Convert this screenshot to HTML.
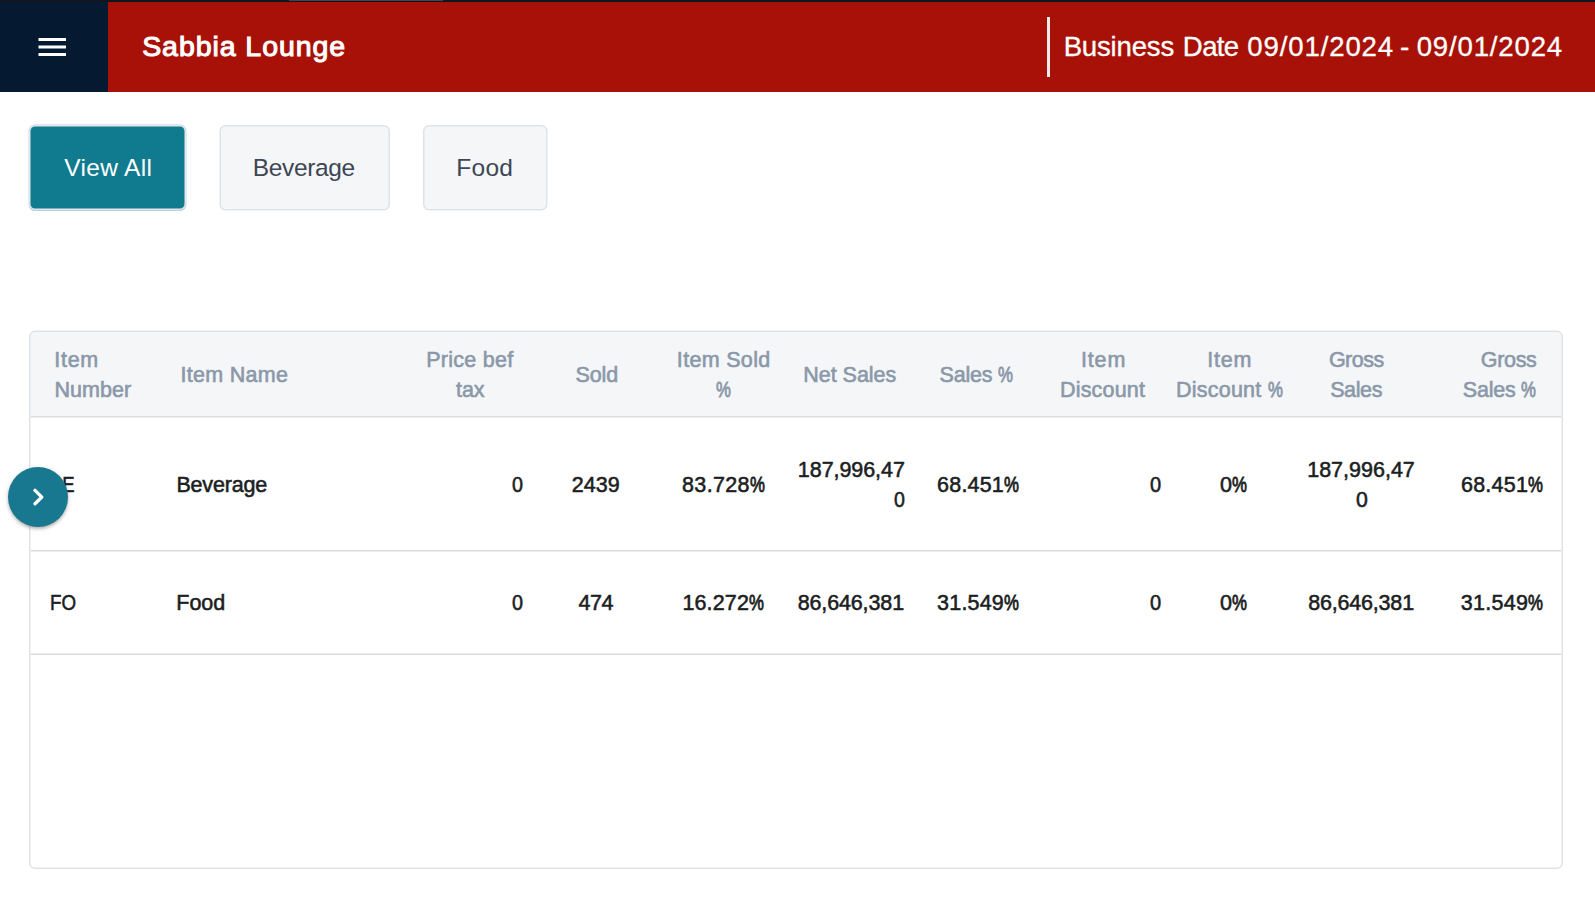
<!DOCTYPE html>
<html lang="en">
<head>
<meta charset="utf-8">
<title>Sabbia Lounge</title>
<style>
  html, body { margin: 0; padding: 0; }
  body {
    width: 1595px; height: 901px; overflow: hidden; position: relative;
    background: #ffffff;
    font-family: "Liberation Sans", sans-serif;
  }
  .abs { position: absolute; }
  h1, nav, header, section, div { margin: 0; font-weight: inherit; font-size: inherit; }

  /* top app bar */
  #chrome-strip { left: 0; top: 0; width: 1595px; height: 2px; background: #10161f; }
  #chrome-strip i { position: absolute; left: 289px; top: 0; width: 154px; height: 1px; background: #454545; }
  #appbar-bg { left: 0; top: 2px; width: 1595px; height: 90px; background: #a81107; }
  #navbtn { left: 0; top: 2px; width: 108px; height: 90px; background: #051a30; }
  #vsep { left: 1047px; top: 17px; width: 3px; height: 60px; background: #f4e9e6; }

  /* every text run is an absolutely positioned line */
  .t { position: absolute; white-space: nowrap; transform-origin: 0 0; }
  .th { font-size: 21.5px; line-height: 30px; color: #8b98a9; -webkit-text-stroke: 0.6px #8b98a9; }
  .td { font-size: 21.5px; line-height: 30px; color: #1b1e22; -webkit-text-stroke: 0.55px #1b1e22; }
  .bt { font-size: 24.5px; line-height: 30px; color: #3d4654; }
  .bt.on { color: #fff; }
  .ti { font-size: 28.5px; line-height: 37px; color: #fff; -webkit-text-stroke: 1.05px #fff; }
  .bd { font-size: 27.6px; line-height: 38px; color: #fff; -webkit-text-stroke: 0.3px #fff; }

  .pc { display: inline-block; font-style: normal; -webkit-text-stroke-width: 0.85px; transform: scaleX(0.78); transform-origin: 0 50%; margin-right: -0.195em; }
  #chrome { left: 0; top: 0; }
  #fab { left: 8px; top: 467px; width: 60px; height: 60px; border-radius: 50%; background: #177890;
    box-shadow: 0 2px 3px rgba(60,40,40,0.28), 0 1px 6px rgba(0,0,0,0.10); }
</style>
</head>
<body>

<div id="chrome-strip" class="abs"><i></i></div>
<div id="appbar-bg" class="abs"></div>

<svg id="chrome" class="abs" width="1595" height="901" viewBox="0 0 1595 901" aria-hidden="true">
  <!-- filter buttons -->
  <rect x="28.6" y="124.6" width="157.8" height="86.5" rx="6.4" fill="#b4d2d9"/>
  <rect x="29.75" y="125.75" width="155.5" height="83.6" rx="5.25" fill="#107b8f" stroke="#e4e6ec" stroke-width="1.5"/>
  <rect x="220.25" y="125.75" width="169" height="84" rx="5.25" fill="#f5f6f8" stroke="#dfe3e9" stroke-width="1.5"/>
  <rect x="423.75" y="125.75" width="123" height="84" rx="5.25" fill="#f5f6f8" stroke="#dfe3e9" stroke-width="1.5"/>
  <!-- table frame -->
  <path d="M30.5 416 V337 a5 5 0 0 1 5 -5 H1556.5 a5 5 0 0 1 5 5 V416 Z" fill="#f4f6f8"/>
  <rect x="30.5" y="416" width="1531" height="1.5" fill="#dadcdf"/>
  <rect x="30.5" y="550" width="1531" height="1.5" fill="#dadcdf"/>
  <rect x="30.5" y="653.5" width="1531" height="1.5" fill="#dadcdf"/>
  <rect x="29.75" y="331.25" width="1532.5" height="537" rx="5.25" fill="none" stroke="#dfe3e8" stroke-width="1.5"/>
</svg>

<header>
  <div id="navbtn" class="abs">
    <svg width="108" height="90" viewBox="0 0 108 90" aria-label="menu">
      <rect x="38.5" y="36" width="27.5" height="3" fill="#fff"/>
      <rect x="38.5" y="43.5" width="27.5" height="3" fill="#fff"/>
      <rect x="38.5" y="51" width="27.5" height="3" fill="#fff"/>
    </svg>
  </div>
  <h1><span id="ti" class="t ti" style="left:142.17px;top:28px;letter-spacing:0.935px;">Sabbia Lounge</span></h1>
  <div id="vsep" class="abs"></div>
  <div><span id="bd1" class="t bd" style="left:1063.66px;top:28px;letter-spacing:-0.204px;">Business</span> <span id="bd2" class="t bd" style="left:1182.85px;top:28px;letter-spacing:-0.637px;">Date</span> <span id="bd3" class="t bd" style="left:1247.33px;top:28px;letter-spacing:0.857px;">09/01/2024</span> <span id="bd4" class="t bd" style="left:1400.07px;top:28px;letter-spacing:0.000px;transform:scaleX(1.0144);">-</span> <span id="bd5" class="t bd" style="left:1416.63px;top:28px;letter-spacing:0.832px;">09/01/2024</span></div>
</header>

<nav>
  <div><span id="bt1" class="t bt on" style="left:64.35px;top:153px;letter-spacing:0.327px;">View All</span></div>
  <div><span id="bt2" class="t bt" style="left:252.70px;top:153px;letter-spacing:-0.340px;">Beverage</span></div>
  <div><span id="bt3" class="t bt" style="left:456.37px;top:153px;letter-spacing:0.249px;">Food</span></div>
</nav>

<section>
  <div>
    <div><span id="h1a" class="t th" style="left:54.25px;top:345px;letter-spacing:0.721px;">Item</span> <span id="h1b" class="t th" style="left:54.43px;top:375px;letter-spacing:0.063px;">Number</span></div>
    <div><span id="h2" class="t th" style="left:180.62px;top:360px;letter-spacing:0.269px;">Item Name</span></div>
    <div><span id="h3a" class="t th" style="left:426.13px;top:345px;letter-spacing:0.285px;">Price bef</span> <span id="h3b" class="t th" style="left:456.10px;top:375px;letter-spacing:-0.102px;">tax</span></div>
    <div><span id="h4" class="t th" style="left:575.62px;top:360px;letter-spacing:-0.143px;">Sold</span></div>
    <div><span id="h5a" class="t th" style="left:676.87px;top:345px;letter-spacing:0.313px;">Item Sold</span> <span id="h5b" class="t th" style="left:715.81px;top:375px;letter-spacing:0.000px;transform:scaleX(0.9980);"><i class="pc">%</i></span></div>
    <div><span id="h6" class="t th" style="left:803.36px;top:360px;letter-spacing:-0.048px;">Net Sales</span></div>
    <div><span id="h7" class="t th" style="left:939.59px;top:360px;letter-spacing:-0.197px;">Sales <i class="pc">%</i></span></div>
    <div><span id="h8a" class="t th" style="left:1080.94px;top:345px;letter-spacing:0.867px;">Item</span> <span id="h8b" class="t th" style="left:1059.96px;top:375px;letter-spacing:0.192px;">Discount</span></div>
    <div><span id="h9a" class="t th" style="left:1207.25px;top:345px;letter-spacing:0.791px;">Item</span> <span id="h9b" class="t th" style="left:1175.96px;top:375px;letter-spacing:0.242px;">Discount <i class="pc">%</i></span></div>
    <div><span id="h10a" class="t th" style="left:1328.89px;top:345px;letter-spacing:-0.475px;">Gross</span> <span id="h10b" class="t th" style="left:1330.14px;top:375px;letter-spacing:-0.366px;">Sales</span></div>
    <div><span id="h11a" class="t th" style="left:1480.86px;top:345px;letter-spacing:-0.338px;">Gross</span> <span id="h11b" class="t th" style="left:1462.86px;top:375px;letter-spacing:-0.253px;">Sales <i class="pc">%</i></span></div>
  </div>
  <div>
    <div><span id="a1" class="t td" style="left:50.22px;top:470px;letter-spacing:0.000px;transform:scaleX(0.8600);">BE</span></div>
    <div><span id="a2" class="t td" style="left:176.45px;top:470px;letter-spacing:-0.184px;">Beverage</span></div>
    <div><span id="a3" class="t td" style="left:511.78px;top:470px;letter-spacing:0.000px;transform:scaleX(0.9188);">0</span></div>
    <div><span id="a4" class="t td" style="left:571.85px;top:470px;letter-spacing:-0.009px;">2439</span></div>
    <div><span id="a5" class="t td" style="left:682.03px;top:470px;letter-spacing:0.353px;">83.728<i class="pc">%</i></span></div>
    <div><span id="a6a" class="t td" style="left:797.85px;top:455px;letter-spacing:-0.064px;">187,996,47</span><span id="a6b" class="t td" style="left:894.00px;top:485px;letter-spacing:0.000px;transform:scaleX(0.9124);">0</span></div>
    <div><span id="a7" class="t td" style="left:937.09px;top:470px;letter-spacing:0.194px;">68.451<i class="pc">%</i></span></div>
    <div><span id="a8" class="t td" style="left:1149.73px;top:470px;letter-spacing:0.000px;transform:scaleX(0.9319);">0</span></div>
    <div><span id="a9" class="t td" style="left:1220.21px;top:470px;letter-spacing:0.000px;transform:scaleX(1.0025);">0<i class="pc">%</i></span></div>
    <div><span id="a10a" class="t td" style="left:1307.18px;top:455px;letter-spacing:0.003px;">187,996,47</span><span id="a10b" class="t td" style="left:1355.79px;top:485px;letter-spacing:0.000px;transform:scaleX(0.9881);">0</span></div>
    <div><span id="a11" class="t td" style="left:1460.98px;top:470px;letter-spacing:0.240px;">68.451<i class="pc">%</i></span></div>
  </div>
  <div>
    <div><span id="b1" class="t td" style="left:49.61px;top:588px;letter-spacing:0.000px;transform:scaleX(0.8726);">FO</span></div>
    <div><span id="b2" class="t td" style="left:176.37px;top:588px;letter-spacing:-0.040px;">Food</span></div>
    <div><span id="b3" class="t td" style="left:511.78px;top:588px;letter-spacing:0.000px;transform:scaleX(0.9188);">0</span></div>
    <div><span id="b4" class="t td" style="left:578.40px;top:588px;letter-spacing:-0.419px;">474</span></div>
    <div><span id="b5" class="t td" style="left:682.42px;top:588px;letter-spacing:0.145px;">16.272<i class="pc">%</i></span></div>
    <div><span id="b6" class="t td" style="left:797.63px;top:588px;letter-spacing:-0.127px;">86,646,381</span></div>
    <div><span id="b7" class="t td" style="left:937.11px;top:588px;letter-spacing:0.191px;">31.549<i class="pc">%</i></span></div>
    <div><span id="b8" class="t td" style="left:1149.73px;top:588px;letter-spacing:0.000px;transform:scaleX(0.9319);">0</span></div>
    <div><span id="b9" class="t td" style="left:1220.21px;top:588px;letter-spacing:0.000px;transform:scaleX(1.0025);">0<i class="pc">%</i></span></div>
    <div><span id="b10" class="t td" style="left:1308.21px;top:588px;letter-spacing:-0.190px;">86,646,381</span></div>
    <div><span id="b11" class="t td" style="left:1460.69px;top:588px;letter-spacing:0.284px;">31.549<i class="pc">%</i></span></div>
  </div>
</section>

<div id="fab" class="abs">
  <svg width="60" height="60" viewBox="0 0 60 60" aria-label="expand">
    <polyline points="27,23.4 33.8,30.1 27,36.8" fill="none" stroke="#fff" stroke-width="3.4" stroke-linecap="round" stroke-linejoin="round"/>
  </svg>
</div>

</body>
</html>
